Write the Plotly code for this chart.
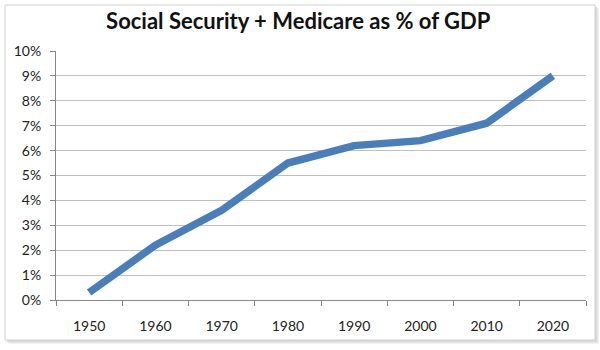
import plotly.graph_objects as go

years = ["1950", "1960", "1970", "1980", "1990", "2000", "2010", "2020"]
share_pct = [0.3, 2.2, 3.6, 5.5, 6.2, 6.4, 7.1, 9.0]
y_ticks = [0, 1, 2, 3, 4, 5, 6, 7, 8, 9, 10]
y_tick_labels = [f"{v}%" for v in y_ticks]

L, R, T, B = 56, 14, 51, 50
W, H = 600, 350
pw, ph = W - L - R, H - T - B

def px(x):
    return (x - L) / pw

def py(y):
    return (H - B - y) / ph

fig = go.Figure()
fig.add_trace(go.Scatter(
    x=years, y=share_pct, mode="lines",
    line=dict(color="#4A7EBB", width=7.5),
    hoverinfo="x+y",
))

shapes = []
# shadow layers
for off, col in [(4, "#f2f2f2"), (3, "#e6e6e6"), (2, "#d9d9d9")]:
    shapes.append(dict(type="rect", xref="paper", yref="paper",
                       x0=px(5 + off), x1=px(595 + off), y0=py(340 + off), y1=py(5 + off),
                       line=dict(width=0), fillcolor=col, layer="below"))
shapes.append(dict(type="rect", xref="paper", yref="paper",
                   x0=px(5), x1=px(595), y0=py(340), y1=py(5),
                   line=dict(width=1, color="#d0d0d0"), fillcolor="white", layer="below"))

fig.update_layout(
    width=W, height=H,
    margin=dict(l=L, r=R, t=T, b=B),
    paper_bgcolor="white", plot_bgcolor="rgba(0,0,0,0)",
    font=dict(family="Lato, Open Sans, sans-serif", size=14, color="#222222"),
    title=dict(text="<b>Social Security + Medicare as % of GDP</b>", x=0.497, xref="container",
               xanchor="center", y=1 - 21 / H, yanchor="middle",
               font=dict(size=22, color="#111111")),
    showlegend=False,
    shapes=shapes,
    xaxis=dict(type="category", showgrid=False, showline=True, linecolor="#868686", linewidth=1,
               ticks="outside", ticklen=5, tickcolor="#868686", tickson="boundaries",
               ticklabelstandoff=13, range=[-0.5, 7.5], zeroline=False),
    yaxis=dict(range=[0, 10], tickvals=y_ticks, ticktext=y_tick_labels,
               showgrid=True, gridcolor="#BFBFBF", gridwidth=1,
               showline=True, linecolor="#868686", linewidth=1,
               ticks="outside", ticklen=5, tickcolor="#868686",
               ticklabelstandoff=6, zeroline=False),
)

fig.write_html("out.html")
